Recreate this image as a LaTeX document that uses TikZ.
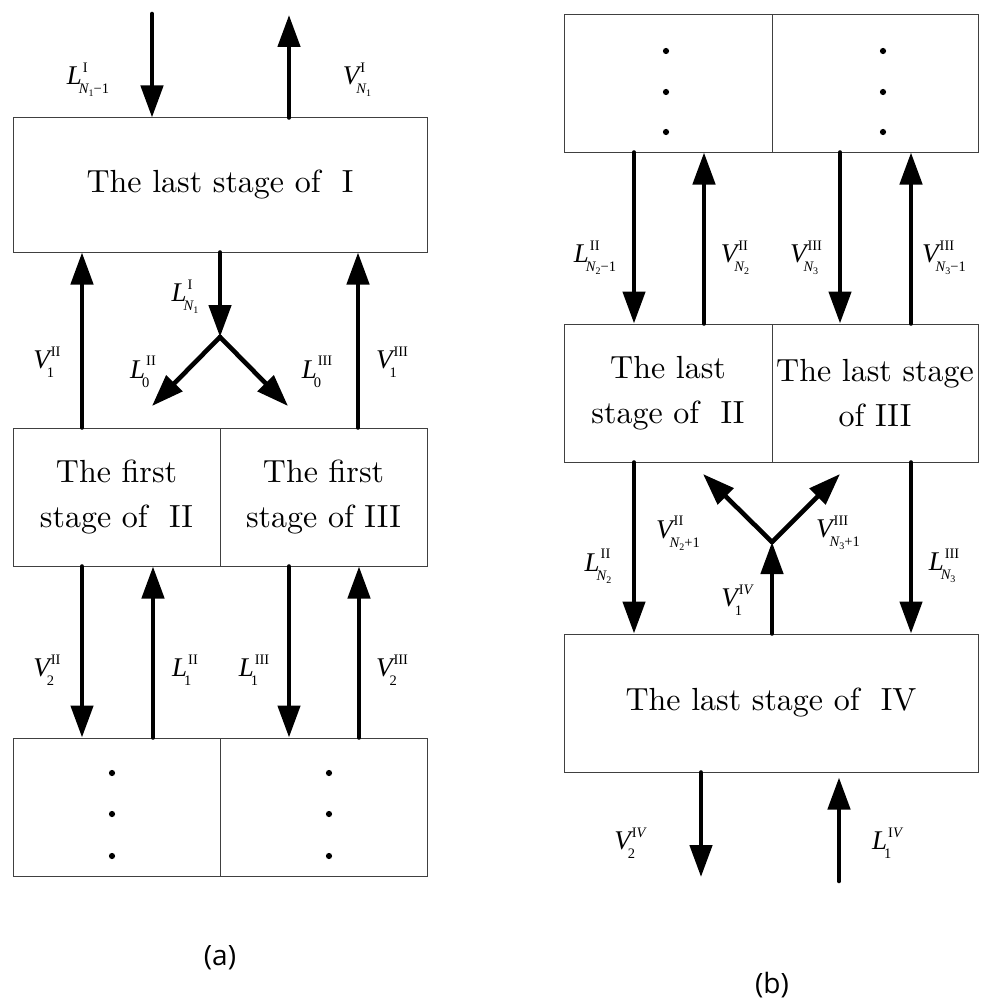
\documentclass[tikz,border=0pt]{standalone}
\usepackage{fontspec}
\newfontfamily\lbf{Liberation Serif}
\newfontfamily\capf{Open Sans}
\newfontfamily\boxf{lmroman10-regular.otf}
\usetikzlibrary{arrows.meta}
\newsavebox\supbx
\newsavebox\subbx
\newcommand{\flab}[3]{%
  \sbox\supbx{\kern1pt\lbf\fontsize{14.5}{14.5}\selectfont #2}%
  \sbox\subbx{\kern-3pt\lbf\fontsize{14.5}{14.5}\selectfont #3}%
  {\lbf\fontsize{27}{27}\selectfont\itshape #1}%
  \makebox[0pt][l]{\raisebox{12.5pt}{\usebox\supbx}}%
  \makebox[0pt][l]{\raisebox{-9pt}{\usebox\subbx}}%
  \ifdim\wd\supbx>\wd\subbx\kern\wd\supbx\else\kern\wd\subbx\fi}
\newcommand{\nsb}[1]{{\itshape N}\raisebox{-3pt}{\fontsize{10}{10}\selectfont #1}}
\tikzset{
  box/.style={draw=black!75, line width=1pt, inner sep=0pt, align=center, font=\boxf\fontsize{32}{45}\selectfont},
  flow/.style={line width=4.6pt, line cap=round, -{Triangle[width=22pt,length=32pt]}},
  lab/.style={inner sep=0pt},
  capt/.style={font=\capf\fontsize{28}{32}\selectfont},
}
\begin{document}
\begin{tikzpicture}[x=1pt,y=-1pt]
\useasboundingbox[fill=white] (0,0) rectangle (983,1006);
% ---------- (a) boxes
\node[box, minimum width=414pt, minimum height=134pt] (bI) at (220,185) {The last stage of \ I};
\node[box, minimum width=207pt, minimum height=138pt] (f2) at (116.5,497) {The first\\stage of \ II};
\node[box, minimum width=207pt, minimum height=138pt] (f3) at (323.5,497) {The first\\stage of III};
\node[box, minimum width=207pt, minimum height=138pt] (d2) at (116.5,807) {};
\node[box, minimum width=207pt, minimum height=138pt] (d3) at (323.5,807) {};
\foreach \y in {773,814,856} {\fill (112,\y) circle (3.1pt); \fill (329,\y) circle (3.1pt);}
% ---------- (a) arrows
\coordinate (a1) at (152,14);
\coordinate (a2) at (289,15);
\draw[flow] (a1) -- (a1 |- bI.north);
\draw[flow] (a2 |- bI.north) -- (a2);
\coordinate (xa) at (82,0);
\coordinate (xb) at (358,0);
\draw[flow] (xa |- f2.north) -- (xa |- bI.south);
\draw[flow] (xb |- f3.north) -- (xb |- bI.south);
\coordinate (j1) at (220,337);
\coordinate (j1l) at (152,406);
\coordinate (j1r) at (288,406);
\draw[flow] (j1 |- bI.south) -- (j1);
\draw[flow] (j1) -- (j1l);
\draw[flow] (j1) -- (j1r);
\coordinate (xc) at (82,0);
\coordinate (xd) at (153,0);
\coordinate (xe) at (289,0);
\coordinate (xf) at (359,0);
\draw[flow] (xc |- f2.south) -- (xc |- d2.north);
\draw[flow] (xd |- d2.north) -- (xd |- f2.south);
\draw[flow] (xe |- f3.south) -- (xe |- d3.north);
\draw[flow] (xf |- d3.north) -- (xf |- f3.south);
% ---------- (a) labels
\node[lab] (la1) at (88,80) {\flab{L}{I}{\nsb{1}−1}};
\node[lab] (la2) at (357,80) {\flab{V}{I}{\nsb{1}}};
\node[lab] (la3) at (185,297) {\flab{L}{I}{\nsb{1}}};
\node[lab] (la4) at (47,362) {\flab{V}{II}{1}};
\node[lab] (la5) at (143,372) {\flab{L}{II}{0}};
\node[lab] (la6) at (317,372) {\flab{L}{III}{0}};
\node[lab] (la7) at (392,362) {\flab{V}{III}{1}};
\node[lab] (la8) at (47,670) {\flab{V}{II}{2}};
\node[lab] (la9) at (185,670) {\flab{L}{II}{1}};
\node[lab] (la10) at (254,670) {\flab{L}{III}{1}};
\node[lab] (la11) at (392,670) {\flab{V}{III}{2}};
\node[capt] (capa) at (220,958) {(a)};
% ---------- (b) boxes
\node[box, minimum width=208pt, minimum height=137pt] (t2) at (668,83.5) {};
\node[box, minimum width=206pt, minimum height=137pt] (t3) at (875,83.5) {};
\node[box, minimum width=208pt, minimum height=138pt] (l2) at (668,393) {The last\\stage of \ II};
\node[box, minimum width=206pt, minimum height=138pt] (l3) at (875,393) {The last stage\\of III};
\node[box, minimum width=414pt, minimum height=138pt] (b4) at (771,703) {The last stage of \ IV};
\foreach \y in {51,92,132} {\fill (666,\y) circle (3.1pt); \fill (883,\y) circle (3.1pt);}
% ---------- (b) arrows
\coordinate (xg) at (634,0);
\coordinate (xh) at (704,0);
\coordinate (xi) at (840,0);
\coordinate (xj) at (911,0);
\draw[flow] (xg |- t2.south) -- (xg |- l2.north);
\draw[flow] (xh |- l2.north) -- (xh |- t2.south);
\draw[flow] (xi |- t3.south) -- (xi |- l3.north);
\draw[flow] (xj |- l3.north) -- (xj |- t3.south);
\draw[flow] (xg |- l2.south) -- (xg |- b4.north);
\draw[flow] (xj |- l3.south) -- (xj |- b4.north);
\coordinate (j2) at (772,542);
\coordinate (j2l) at (703,474);
\coordinate (j2r) at (840,474);
\draw[flow] (j2 |- b4.north) -- (j2);
\draw[flow] (j2) -- (j2l);
\draw[flow] (j2) -- (j2r);
\coordinate (o4) at (701,877);
\coordinate (i4) at (839,881);
\draw[flow] (o4 |- b4.south) -- (o4);
\draw[flow] (i4) -- ([yshift=-5pt]i4 |- b4.south);
% ---------- (b) labels
\node[lab] (lb1) at (595,258) {\flab{L}{II}{\nsb{2}−1}};
\node[lab] (lb2) at (735,258) {\flab{V}{II}{\nsb{2}}};
\node[lab] (lb3) at (806,258) {\flab{V}{III}{\nsb{3}}};
\node[lab] (lb4) at (944,258) {\flab{V}{III}{\nsb{3}−1}};
\node[lab] (lb5) at (678,533) {\flab{V}{II}{\nsb{2}+1}};
\node[lab] (lb6) at (838,533) {\flab{V}{III}{\nsb{3}+1}};
\node[lab] (lb7) at (598,566) {\flab{L}{II}{\nsb{2}}};
\node[lab] (lb8) at (944,566) {\flab{L}{III}{\nsb{3}}};
\node[lab] (lb9) at (737,600) {\flab{V}{I{\itshape V}}{1}};
\node[lab] (lb10) at (630,843) {\flab{V}{I{\itshape V}}{2}};
\node[lab] (lb11) at (887,843) {\flab{L}{I{\itshape V}}{1}};
\node[capt] (capb) at (772,985) {(b)};
\end{tikzpicture}
\end{document}
